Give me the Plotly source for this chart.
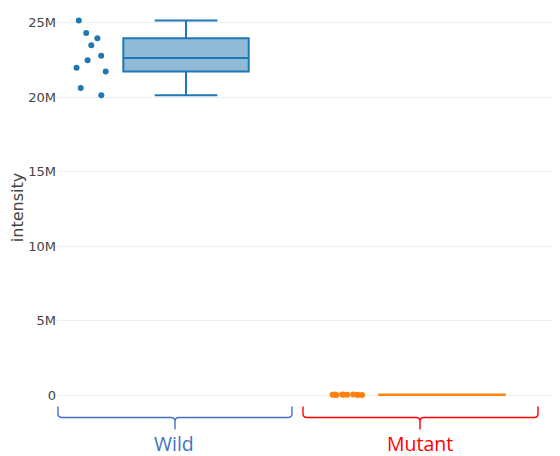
import plotly.graph_objects as go

groups = ["Wild", "Mutant"]
wild_values = [25.13e6, 24.29e6, 23.95e6, 23.48e6, 22.77e6, 22.46e6, 21.97e6, 21.72e6, 20.61e6, 20.12e6]
mutant_values = [52e3, 38e3, 61e3, 45e3, 70e3, 33e3, 57e3, 48e3, 66e3, 41e3]
colors = ["#1f77b4", "#ff7f0e"]
fills = ["rgba(31,119,180,0.5)", "rgba(255,127,14,0.5)"]
label_colors = ["#4472C4", "#FF0000"]

fig = go.Figure()
for name, vals, c, f in zip(groups, [wild_values, mutant_values], colors, fills):
    fig.add_trace(go.Box(
        x=[name] * len(vals), y=vals, name=name,
        boxpoints="all", marker=dict(color=c, size=6), line=dict(color=c, width=2),
        fillcolor=f, showlegend=False,
    ))

FW, FH = 552, 448
OFF = 8  # page offset of the figure inside the window
# plot area in figure pixels
L, R, T, B = 49, 552, 6.5, 392.5
W, H = R - L, B - T

def px(x):
    return (x - OFF - L) / W

def py(y):
    return (B - (y - OFF)) / H

def bracket(x0, x1, xc, color):
    yt, yh, yb = py(407), py(418), py(430)
    r = 4 / W
    ry = py(414)
    path = (f"M {px(x0)},{yt} L {px(x0)},{ry} Q {px(x0)},{yh} {px(x0)+r},{yh} "
            f"L {px(xc)-r},{yh} Q {px(xc)},{yh} {px(xc)},{py(422)} L {px(xc)},{yb} "
            f"M {px(xc)},{py(422)} Q {px(xc)},{yh} {px(xc)+r},{yh} "
            f"L {px(x1)-r},{yh} Q {px(x1)},{yh} {px(x1)},{ry} L {px(x1)},{yt}")
    return dict(type="path", path=path, xref="paper", yref="paper",
                line=dict(color=color, width=1.4))

shapes = [bracket(58, 292, 175, label_colors[0]), bracket(303, 538, 420, label_colors[1])]
annotations = [
    dict(text=groups[0], x=px(174), y=py(444.5), xref="paper", yref="paper", showarrow=False,
         font=dict(family="Open Sans, sans-serif", size=19.5, color=label_colors[0]),
         xanchor="center", yanchor="middle", borderpad=0),
    dict(text=groups[1], x=px(420), y=py(444.5), xref="paper", yref="paper", showarrow=False,
         font=dict(family="Open Sans, sans-serif", size=19.5, color=label_colors[1]),
         xanchor="center", yanchor="middle", borderpad=0),
]

fig.update_layout(
    width=FW, height=FH,
    margin=dict(l=L, r=FW - R, t=T, b=FH - B),
    plot_bgcolor="white", paper_bgcolor="white",
    font=dict(family="DejaVu Sans, Verdana, sans-serif", size=13, color="#444"),
    boxmode="overlay",
    shapes=shapes, annotations=annotations,
)
fig.update_xaxes(showticklabels=False, showgrid=False, zeroline=False, showline=False,
                 range=[-0.504, 1.461])
fig.update_yaxes(title=dict(text="intensity", standoff=10), range=[-0.3e6, 25.5e6],
                 gridcolor="#eee", zeroline=False, showline=False, ticks="",
                 tickvals=[0, 5e6, 10e6, 15e6, 20e6, 25e6])

fig.write_html("out.html")
